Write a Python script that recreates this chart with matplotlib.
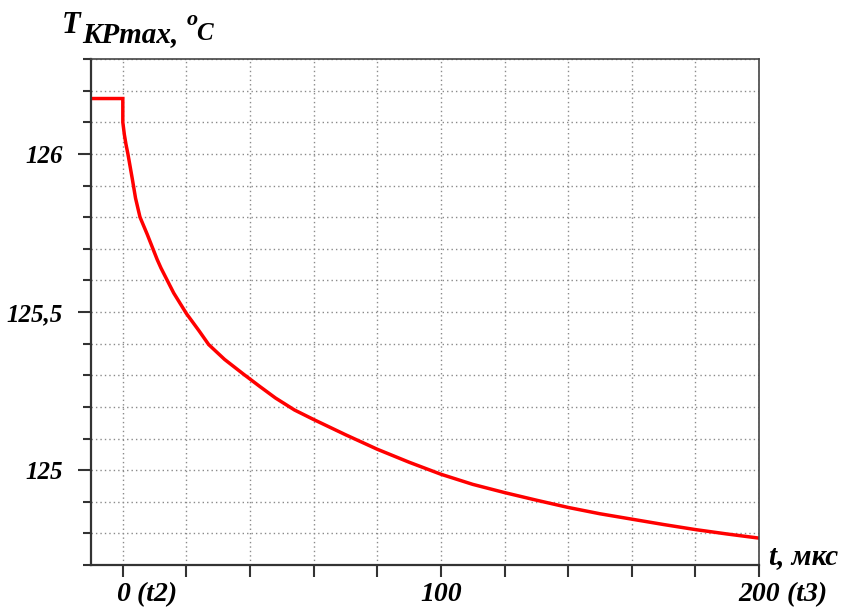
import matplotlib
matplotlib.use("Agg")
import matplotlib.pyplot as plt
from matplotlib.ticker import MultipleLocator, FixedLocator

# Data (time in microseconds, temperature in deg C)
t_us = [-10, 0, 0, 0.5, 1, 1.6, 3, 4, 5.4, 7.7, 10.8, 12, 16, 20, 24, 27, 32, 38,
        43, 48, 54, 60, 70, 80, 90, 100, 110, 120, 130, 140, 150, 160, 170,
        180, 190, 200]
temp_c = [126.175, 126.175, 126.10, 126.06, 126.03, 126.00, 125.92, 125.86,
          125.80, 125.745, 125.666, 125.639, 125.56, 125.495, 125.44, 125.397,
          125.35, 125.303, 125.265, 125.228, 125.19, 125.16, 125.112, 125.066,
          125.025, 124.987, 124.955, 124.929, 124.905, 124.882, 124.862,
          124.845, 124.828, 124.812, 124.798, 124.785]

x_label_pos = [0, 100, 200]
x_label_num = ["0", "100", "200"]
x_label_suffix = [" (t2)", "", " (t3)"]
y_major = [125.0, 125.5, 126.0]
y_major_labels = ["125", "125,5", "126"]

FONT = "Liberation Serif"
W, H = 845, 607
fig = plt.figure(figsize=(W / 100, H / 100), dpi=100)
ax = fig.add_axes([91 / W, 1 - 565 / H, (759 - 91) / W, (565 - 59) / H])

ax.plot(t_us, temp_c, color="#ff0000", lw=2.5, solid_joinstyle="miter")

ax.set_xlim(-10, 200)
ax.set_ylim(124.7, 126.3)

# grid
ax.xaxis.set_major_locator(MultipleLocator(20))
ax.yaxis.set_major_locator(FixedLocator(y_major))
ax.yaxis.set_minor_locator(MultipleLocator(0.1))
grid_kw = dict(color="#8a8a8a", linestyle=(0, (1, 2.2)), linewidth=1.0)
ax.grid(True, which="major", axis="x", **grid_kw)
ax.grid(True, which="both", axis="y", **grid_kw)
ax.set_axisbelow(True)

ax.set_yticklabels(y_major_labels, fontfamily=FONT, fontweight="bold",
                   fontstyle="italic", fontsize=18)
ax.set_xticklabels([])
ax.tick_params(axis="y", which="major", direction="out", length=9.5, width=1.5,
               color="#333333", pad=11)
ax.tick_params(axis="y", which="minor", direction="out", length=6, width=1.5,
               color="#333333")
ax.tick_params(axis="x", which="major", direction="out", length=8.6, width=1.5,
               color="#333333")

for side in ["left", "bottom"]:
    ax.spines[side].set_linewidth(1.6)
    ax.spines[side].set_color("#333333")
for side in ["top", "right"]:
    ax.spines[side].set_linewidth(1.2)
    ax.spines[side].set_color("#444444")

# x labels: numbers centred on ticks, suffix following
txt_kw = dict(fontfamily=FONT, fontweight="bold", fontstyle="italic", fontsize=20)
y_lab = -(601 - 565) / (565 - 59)
for xp, num, suf in zip(x_label_pos, x_label_num, x_label_suffix):
    t = ax.text(xp, y_lab, num, transform=ax.get_xaxis_transform(),
                ha="center", va="baseline", clip_on=False, **txt_kw)
    if suf:
        ax.annotate(suf, xy=(1, 0), xycoords=t, ha="left", va="bottom",
                    annotation_clip=False, **txt_kw)

# axis titles
fig.text(62 / W, 1 - 33 / H, "T", ha="left", va="baseline", fontfamily=FONT,
         fontweight="bold", fontstyle="italic", fontsize=22)
fig.text(82 / W, 1 - 42 / H, "KPmax,", ha="left", va="baseline", fontfamily=FONT,
         fontweight="bold", fontstyle="italic", fontsize=21)
fig.text(187 / W, 1 - 25 / H, "o", ha="left", va="baseline", fontfamily=FONT,
         fontweight="bold", fontstyle="italic", fontsize=16)
fig.text(196 / W, 1 - 40 / H, "C", ha="left", va="baseline", fontfamily=FONT,
         fontweight="bold", fontstyle="italic", fontsize=18)
fig.text(769 / W, 1 - 564 / H, "t, мкс", ha="left", va="baseline", fontfamily=FONT,
         fontweight="bold", fontstyle="italic", fontsize=21)

fig.savefig("out.png", dpi=100)
